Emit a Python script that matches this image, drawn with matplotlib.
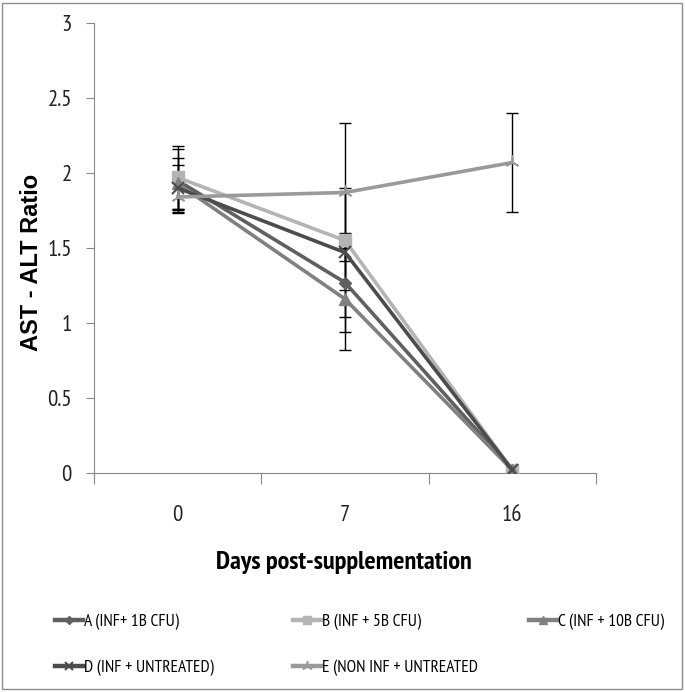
import numpy as np
import matplotlib.pyplot as plt
from matplotlib.patches import Rectangle

# data
days = ['0', '7', '16']
series_names = ['A (INF+ 1B CFU)', 'B (INF + 5B CFU)', 'C (INF + 10B CFU)',
                'D (INF + UNTREATED)', 'E (NON INF + UNTREATED']
ratio_a = [1.95, 1.27, 0.02]
ratio_b = [1.97, 1.55, 0.02]
ratio_c = [1.93, 1.16, 0.02]
ratio_d = [1.90, 1.47, 0.02]
ratio_e = [1.84, 1.87, 2.07]
err_a = [0.21, 0.33, 0.0]
err_b = [0.21, 0.33, 0.0]
err_c = [0.17, 0.34, 0.0]
err_d = [0.15, 0.43, 0.0]
err_e = [0.11, 0.46, 0.33]

narrow = ['PT Sans Narrow', 'DejaVu Sans']

fig = plt.figure(figsize=(6.85, 6.92), dpi=100)
ax = fig.add_axes([94/685, 1 - 473/692, 502/685, 450/692])

x = np.arange(len(days)) + 0.5
styles = [
    dict(color='#5f5f5f', marker='D', ms=6),
    dict(color='#b4b4b4', marker='s', ms=8),
    dict(color='#808080', marker='^', ms=8),
    dict(color='#4c4c4c', marker='x', ms=8, mew=1.5),
    dict(color='#9a9a9a', marker=(3, 2, 0), ms=10, mew=1.2),
]
vals = [ratio_a, ratio_b, ratio_c, ratio_d, ratio_e]
errs = [err_a, err_b, err_c, err_d, err_e]

for v, e in zip(vals, errs):
    ax.errorbar(x, v, yerr=e, fmt='none', ecolor='black', elinewidth=1,
                capsize=4, capthick=1, zorder=2)
handles = []
for v, st, name in zip(vals, styles, series_names):
    h, = ax.plot(x, v, lw=2.6, zorder=3, label=name, **st)
    handles.append(h)

ax.set_xlim(0, 3)
ax.set_ylim(0, 3)
ax.set_yticks(np.arange(0, 3.01, 0.5))
ax.set_yticklabels(['0', '0.5', '1', '1.5', '2', '2.5', '3'])
ax.set_xticks([0, 1, 2, 3])
ax.set_xticklabels([])
ax.set_xticks(x, minor=True)
ax.set_xticklabels(days, minor=True)
ax.tick_params(axis='x', which='major', length=8, color='#888888', direction='out')
ax.tick_params(axis='x', which='minor', length=0, pad=23)
ax.tick_params(axis='y', length=6, color='#888888', direction='out', pad=10)
for lab in ax.get_xticklabels(minor=True) + ax.get_yticklabels():
    lab.set_family(narrow)
    lab.set_fontsize(16.5)
    lab.set_color('#222222')

for s in ['top', 'right']:
    ax.spines[s].set_visible(False)
for s in ['left', 'bottom']:
    ax.spines[s].set_color('#888888')

fig.text(344/685, 1 - 569/692, 'Days post-supplementation', ha='center', va='baseline',
         fontsize=19, fontweight='bold', family=narrow)
fig.text(31/685, 1 - 262/692, 'AST - ALT Ratio', ha='center', va='center', rotation=90,
         fontsize=17, fontweight='bold', family=['Liberation Sans', 'DejaVu Sans'])

# legend entries placed in two rows like the reference
legend_pos = [(55, 622), (293, 622), (529, 622), (55, 668), (293, 668)]
for h, (px, py) in zip(handles, legend_pos):
    leg = fig.legend(handles=[h], loc='center left',
                     bbox_to_anchor=(px/685, 1 - py/692), frameon=False,
                     handlelength=1.6, handletextpad=0.05, borderpad=0, borderaxespad=0,
                     prop={'family': narrow, 'size': 12.5}, markerscale=0.75)
    for ln in leg.get_lines():
        ln.set_linewidth(3.2)

fig.add_artist(Rectangle((2/685, 3/692), 680/685, 686/692, transform=fig.transFigure,
                         fill=False, edgecolor='#8c8c8c', lw=1))

fig.savefig('out.png', dpi=100)
